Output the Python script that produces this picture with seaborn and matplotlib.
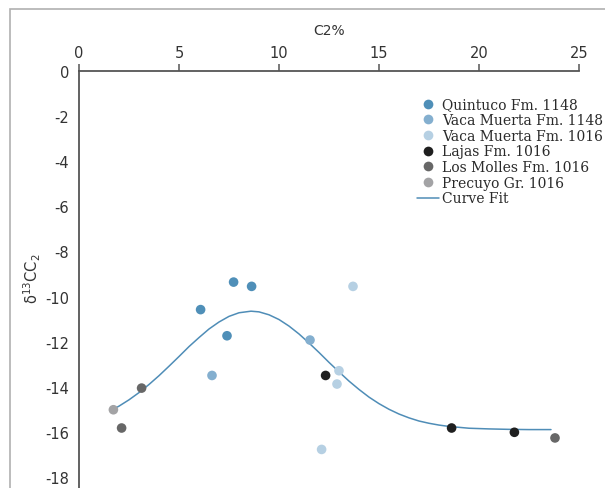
import matplotlib
matplotlib.use("Agg")
import matplotlib.pyplot as plt
import seaborn as sns
import pandas as pd
from matplotlib.patches import Rectangle
from matplotlib.lines import Line2D

# ---- data ----
series_names = ["Quintuco Fm. 1148", "Vaca Muerta Fm. 1148", "Vaca Muerta Fm. 1016",
                "Lajas Fm. 1016", "Los Molles Fm. 1016", "Precuyo Gr. 1016"]
quintuco_x = [7.73, 8.63, 6.08, 7.40]
quintuco_y = [-9.36, -9.55, -10.58, -11.74]
vm1148_x = [6.65, 11.55]
vm1148_y = [-13.50, -11.93]
vm1016_x = [13.70, 13.00, 12.90, 12.13]
vm1016_y = [-9.55, -13.29, -13.88, -16.78]
lajas_x = [12.33, 18.63, 21.77]
lajas_y = [-13.50, -15.83, -16.02]
molles_x = [3.13, 2.13, 23.80]
molles_y = [-14.06, -15.83, -16.27]
precuyo_x = [1.72]
precuyo_y = [-15.02]

fit_x = [1.7, 2.0, 2.5, 3.0, 3.5, 4.0, 4.5, 5.0, 5.5, 6.0, 6.5, 7.0, 7.5, 8.0,
         8.6, 9.0, 9.5, 10.0, 10.5, 11.0, 11.5, 12.0, 12.5, 13.0, 13.5, 14.0,
         14.5, 15.0, 15.5, 16.0, 16.5, 17.0, 17.5, 18.0, 18.5, 19.5, 20.5, 21.5,
         22.5, 23.6]
fit_y = [-15.0, -14.86, -14.58, -14.26, -13.9, -13.51, -13.09, -12.66, -12.22,
         -11.82, -11.44, -11.13, -10.88, -10.72, -10.65, -10.68, -10.81, -11.02,
         -11.31, -11.66, -12.06, -12.48, -12.92, -13.34, -13.75, -14.12, -14.46,
         -14.75, -15.0, -15.21, -15.38, -15.52, -15.62, -15.70, -15.76, -15.84,
         -15.87, -15.89, -15.9, -15.9]

x_ticks = [0, 5, 10, 15, 20, 25]
y_ticks = [0, -2, -4, -6, -8, -10, -12, -14, -16, -18]

colors = ["#4f8fb8", "#84afcf", "#b6d0e3", "#1f1f1f", "#676767", "#a3a3a5"]
curve_color = "#4f8db7"

xs = [quintuco_x, vm1148_x, vm1016_x, lajas_x, molles_x, precuyo_x]
ys = [quintuco_y, vm1148_y, vm1016_y, lajas_y, molles_y, precuyo_y]
rows = []
for name, xx, yy in zip(series_names, xs, ys):
    for a, b in zip(xx, yy):
        rows.append({"C2": a, "d13C": b, "Formation": name})
df = pd.DataFrame(rows)
fit_df = pd.DataFrame({"C2": fit_x, "d13C": fit_y})

sns.set_style("white")
plt.rcParams['font.family'] = ['DejaVu Sans']

fig = plt.figure(figsize=(6.05, 4.89), dpi=100)
ax = fig.add_axes([79/605, 0.0, 500/605, (489-72)/489])

sns.lineplot(data=fit_df, x="C2", y="d13C", ax=ax, color=curve_color, lw=1.1,
             zorder=2, legend=False)
sns.scatterplot(data=df, x="C2", y="d13C", hue="Formation", hue_order=series_names,
                palette=dict(zip(series_names, colors)), s=48, edgecolor="none",
                ax=ax, zorder=3, legend=False)

ax.set_xlim(0, 25)
ax.set_ylim(-18.49, 0)
ax.set_xticks(x_ticks)
ax.set_yticks(y_ticks)
ax.set_yticklabels([str(v) for v in y_ticks])
ax.xaxis.tick_top()
ax.xaxis.set_label_position("top")
ax.set_xlabel("C2%", fontsize=10, color="#333333", labelpad=8)
ax.set_ylabel("δ$^{13}$CC$_2$", fontsize=10.5, color="#333333")
ax.yaxis.set_label_coords(-0.072, 0.505)
ax.tick_params(axis="both", direction="out", length=5, width=1.1, color="#555555",
               labelsize=10.5, labelcolor="#333333")
ax.tick_params(axis="x", pad=3)
ax.tick_params(axis="y", pad=2)
for s in ["right", "bottom"]:
    ax.spines[s].set_visible(False)
for s in ["left", "top"]:
    ax.spines[s].set_color("#555555")
    ax.spines[s].set_linewidth(1.3)

handles = [Line2D([0], [0], marker="o", linestyle="none", markersize=7,
                  markerfacecolor=c, markeredgecolor="none") for c in colors]
handles.append(Line2D([0], [0], color=curve_color, lw=1.1))
labels = series_names + ["Curve Fit"]
leg = ax.legend(handles, labels, loc="upper left", bbox_to_anchor=(0.665, 0.95),
                frameon=False, prop={"family": "DejaVu Serif", "size": 10},
                handlelength=1.6, handletextpad=0.2, labelspacing=0.12,
                borderaxespad=0)
for t in leg.get_texts():
    t.set_color("#2a2a2a")

fig.patches.append(Rectangle((10/605, -0.1), 1.2, 1 - 10/489 + 0.1,
                             transform=fig.transFigure, fill=False,
                             edgecolor="#b0b0b0", lw=1.2))

fig.savefig("out.png", dpi=100)
